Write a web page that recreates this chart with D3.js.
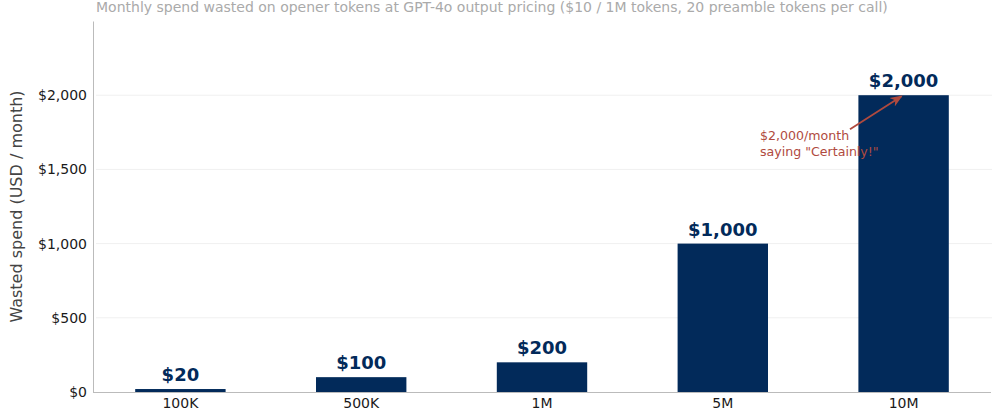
<!DOCTYPE html>
<html>
<head>
<meta charset="utf-8">
<script src="https://cdn.jsdelivr.net/npm/d3@7"></script>
<style>
  body { margin: 0; background: #fff; }
  #visualization { width: 1000px; height: 420px; }
  text { font-family: "DejaVu Sans", sans-serif; }
</style>
</head>
<body>
<div id="visualization"></div>
<script>
const callVolumes = ["100K", "500K", "1M", "5M", "10M"];
const wastedSpend = [20, 100, 200, 1000, 2000];
const yTicks = [0, 500, 1000, 1500, 2000];
const valueLabels = ["$20", "$100", "$200", "$1,000", "$2,000"];
const noteLines = ["$2,000/month", 'saying "Certainly!"'];

const margin = { top: 21, right: 8, bottom: 28, left: 93 },
  width = 1000 - margin.left - margin.right,
  height = 420 - margin.top - margin.bottom;

const navy = "#022a5a";
const noteColor = "#b04a3e";

const svg = d3
  .select("#visualization")
  .append("svg")
  .attr("width", 1000)
  .attr("height", 420);

svg
  .append("defs")
  .append("marker")
  .attr("id", "arrow")
  .attr("viewBox", "0 0 10 10")
  .attr("refX", 9)
  .attr("refY", 5)
  .attr("markerWidth", 7)
  .attr("markerHeight", 7)
  .attr("orient", "auto")
  .append("path")
  .attr("d", "M0,1 L10,5 L0,9 L3,5 Z")
  .attr("fill", noteColor);

const g = svg
  .append("g")
  .attr("transform", `translate(${margin.left}, ${margin.top})`);

const x = d3
  .scaleBand()
  .domain(callVolumes)
  .range([-3, width + 2])
  .paddingInner(0.5)
  .paddingOuter(0.25);

const y = d3.scaleLinear().domain([0, 2500]).range([height, 0]);

// grid
g.append("g")
  .selectAll("line")
  .data(yTicks.slice(1))
  .join("line")
  .attr("x1", 3)
  .attr("x2", width)
  .attr("y1", (d) => y(d))
  .attr("y2", (d) => y(d))
  .attr("stroke", "#f0f0f0")
  .attr("stroke-width", 1);

// bars
g.append("g")
  .selectAll("rect")
  .data(wastedSpend)
  .join("rect")
  .attr("x", (d, i) => x(callVolumes[i]))
  .attr("width", x.bandwidth())
  .attr("y", (d) => y(d))
  .attr("height", (d) => height - y(d))
  .attr("fill", navy);

// value labels
g.append("g")
  .selectAll("text")
  .data(wastedSpend)
  .join("text")
  .attr("x", (d, i) => x(callVolumes[i]) + x.bandwidth() / 2)
  .attr("y", (d) => y(d) - 8)
  .attr("text-anchor", "middle")
  .attr("font-size", "18px")
  .attr("font-weight", "bold")
  .attr("fill", navy)
  .text((d, i) => valueLabels[i]);

// axes
const yAxis = g
  .append("g")
  .call(
    d3
      .axisLeft(y)
      .tickValues(yTicks)
      .tickSize(0)
      .tickPadding(6)
      .tickFormat((d) => "$" + d3.format(",")(d))
  );
yAxis.select(".domain").attr("stroke", "#bbb");
yAxis.selectAll("text").attr("font-size", "14px").attr("fill", "#1a1a1a")
  .attr("font-family", "DejaVu Sans, sans-serif");

const xAxis = g
  .append("g")
  .attr("transform", `translate(0, ${height})`)
  .call(d3.axisBottom(x).tickSize(0).tickPadding(6));
xAxis.select(".domain").attr("stroke", "#bbb").attr("d", `M0,0.5H${width - 1}`);
xAxis.selectAll("text").attr("font-size", "14px").attr("fill", "#1a1a1a")
  .attr("font-family", "DejaVu Sans, sans-serif");

// y label
svg
  .append("text")
  .attr("transform", `translate(22, ${margin.top + height / 2}) rotate(-90)`)
  .attr("text-anchor", "middle")
  .attr("font-size", "16px")
  .attr("fill", "#444")
  .text("Wasted spend (USD / month)");

// title
svg
  .append("text")
  .attr("x", 96)
  .attr("y", 12)
  .attr("font-size", "14px")
  .attr("fill", "#aaa")
  .text(
    "Monthly spend wasted on opener tokens at GPT-4o output pricing ($10 / 1M tokens, 20 preamble tokens per call)"
  );

// annotation
const last = callVolumes.length - 1;
const tipX = x(callVolumes[last]) + x.bandwidth() / 2 - 2;
const tipY = y(wastedSpend[last]) + 1;

g.append("line")
  .attr("x1", 757)
  .attr("y1", y(1770))
  .attr("x2", tipX)
  .attr("y2", tipY)
  .attr("stroke", noteColor)
  .attr("stroke-width", 1.8)
  .attr("marker-end", "url(#arrow)");

g.append("g")
  .selectAll("text")
  .data(noteLines)
  .join("text")
  .attr("x", 667)
  .attr("y", (d, i) => y(1700) + i * 16)
  .attr("font-size", "12.6px")
  .attr("fill", noteColor)
  .text((d) => d);
</script>
</body>
</html>
